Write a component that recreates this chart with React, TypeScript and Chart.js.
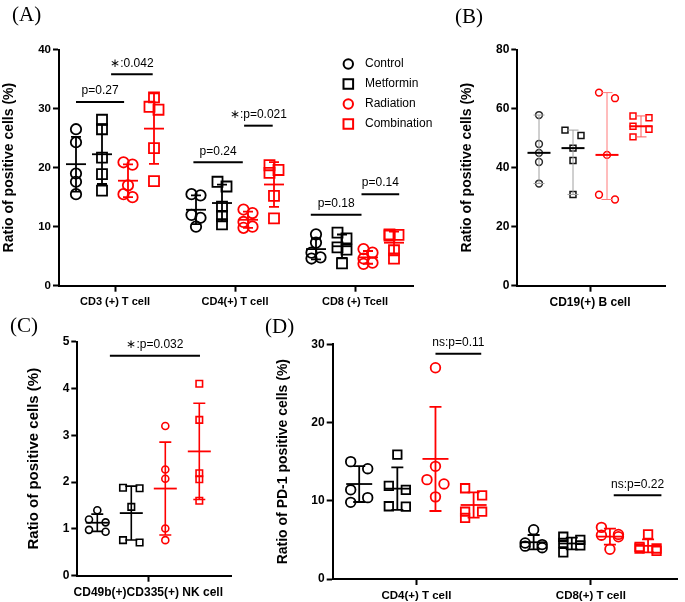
import { useEffect, useRef } from 'react';
import { Chart, registerables } from 'chart.js';

Chart.register(...registerables);

const SANS = "'Liberation Sans', Arial, Helvetica, sans-serif";
const SERIF = "'Liberation Serif', 'Times New Roman', serif";
const RED = '#ff0000';
const BLACK = '#000000';

const GROUP_NAMES = ['Control', 'Metformin', 'Radiation', 'Combination'];

// ---------- Panel A ----------
const A_CATEGORIES = ['CD3 (+) T cell', 'CD4(+) T cell', 'CD8 (+) Tcell'];
const A_CONTROL = [[26.5, 24.3, 19.0, 17.6, 15.5], [15.5, 15.3, 12.0, 11.5, 10.0], [8.7, 7.3, 5.6, 4.8, 4.6]];
const A_METFORMIN = [[28.1, 26.5, 21.7, 18.9, 16.1], [17.6, 16.8, 13.4, 11.8, 10.4], [9.0, 8.0, 6.5, 6.1, 3.8]];
const A_RADIATION = [[20.9, 20.5, 17.0, 15.5, 15.0], [12.9, 12.3, 10.8, 10.0, 9.8], [6.2, 5.6, 4.6, 3.9, 3.7]];
const A_COMBINATION = [[31.9, 30.3, 29.8, 23.3, 17.7], [20.4, 19.6, 19.1, 15.2, 11.4], [8.7, 8.6, 8.5, 6.0, 4.6]];
const A_Y_TICKS = [0, 10, 20, 30, 40];
const A_BRACKET_LABELS = ['p=0.27', '∗:0.042', 'p=0.24', '∗:p=0.021', 'p=0.18', 'p=0.14'];
const A_BRACKET_VALUES = [31.1, 35.8, 20.9, 27.1, 12.0, 15.5];
const A_BRACKET_CATS = [0, 0, 1, 1, 2, 2];
const A_BRACKET_FROM = [0, 1.35, -0.1, 1.85, -0.2, 1.75];
const A_BRACKET_TO = [1.85, 2.95, 1.8, 2.95, 1.75, 3.2];

// ---------- Panel B ----------
const B_CATEGORIES = ['CD19(+) B cell'];
const B_CONTROL = [[57.8, 48.0, 45.0, 41.9, 34.6]];
const B_METFORMIN = [[52.7, 50.9, 46.6, 42.4, 30.9]];
const B_RADIATION = [[65.4, 63.5, 44.3, 30.8, 29.2]];
const B_COMBINATION = [[57.5, 56.9, 54.0, 53.0, 50.4]];
const B_Y_TICKS = [0, 20, 40, 60, 80];

// ---------- Panel C ----------
const C_CATEGORIES = ['CD49b(+)CD335(+) NK cell'];
const C_CONTROL = [[1.40, 1.20, 1.14, 0.98, 0.94]];
const C_METFORMIN = [[1.88, 1.87, 1.47, 0.76, 0.71]];
const C_RADIATION = [[3.20, 2.27, 2.07, 1.01, 0.76]];
const C_COMBINATION = [[4.10, 3.33, 2.19, 2.06, 1.60]];
const C_Y_TICKS = [0, 1, 2, 3, 4, 5];
const C_BRACKET_LABELS = ['∗:p=0.032'];
const C_BRACKET_VALUES = [4.70];
const C_BRACKET_CATS = [0];
const C_BRACKET_FROM = [0.37];
const C_BRACKET_TO = [3.02];

// ---------- Panel D ----------
const D_CATEGORIES = ['CD4(+) T cell', 'CD8(+) T cell'];
const D_CONTROL = [[15.0, 14.1, 11.4, 10.4, 9.8], [6.3, 4.6, 4.4, 4.2, 4.0]];
const D_METFORMIN = [[15.9, 11.9, 11.4, 9.3, 9.25], [5.4, 5.0, 4.6, 4.3, 3.4]];
const D_RADIATION = [[27.0, 14.4, 12.7, 12.15, 10.5], [6.6, 5.7, 5.6, 5.4, 3.8]];
const D_COMBINATION = [[11.6, 10.7, 8.6, 8.6, 7.8], [5.7, 4.1, 3.9, 3.9, 3.6]];
const D_Y_TICKS = [0, 10, 20, 30];
const D_BRACKET_LABELS = ['ns:p=0.11', 'ns:p=0.22'];
const D_BRACKET_VALUES = [28.8, 10.7];
const D_BRACKET_CATS = [0, 1];
const D_BRACKET_FROM = [2.0, 2.1];
const D_BRACKET_TO = [3.2, 3.35];

type Bracket = { cat: number; from: number; to: number; y: number; label: string };

function makeBrackets(labels: string[], values: number[], cats: number[], from: number[], to: number[]): Bracket[] {
  return labels.map((label, i) => ({ label, y: values[i], cat: cats[i], from: from[i], to: to[i] }));
}

interface PanelSpec {
  id: string;
  label: string;
  labelPos: [number, number];
  canvas: { left: number; top: number; w: number; h: number };
  plot: { left: number; right: number; top: number; bottom: number };
  titleX: number;
  yTitle: string;
  yMax: number;
  yTicks: number[];
  categories: string[];
  series: number[][][];
  firstCatX: number;
  catPx: number;
  subPx: number;
  stat: 'sd' | 'range';
  tickFont: number;
  xFont: number;
  titleFont: number;
  circleR: number;
  squareR: number;
  borderWidth: number;
  halfSep: number;
  thr: number;
  meanHalf: number;
  capHalf: number;
  barWidth: number;
  meanWidth: number;
  pointColors: string[];
  barColors: string[];
  meanColors: string[];
  brackets: Bracket[];
  legend?: boolean;
}

const PANELS: PanelSpec[] = [
  {
    id: 'A', label: '(A)', labelPos: [12, 15],
    canvas: { left: 0, top: 0, w: 470, h: 310 },
    plot: { left: 59, right: 413, top: 49.5, bottom: 285.7 },
    titleX: 9, yTitle: 'Ratio of positive cells (%)', yMax: 40, yTicks: A_Y_TICKS,
    categories: A_CATEGORIES, series: [A_CONTROL, A_METFORMIN, A_RADIATION, A_COMBINATION],
    firstCatX: 115, catPx: 120, subPx: 26, stat: 'sd',
    tickFont: 11.5, xFont: 11, titleFont: 14,
    circleR: 5.2, squareR: 7.1, borderWidth: 1.8, halfSep: 4.5, thr: 8,
    meanHalf: 10, capHalf: 5, barWidth: 1.8, meanWidth: 1.8,
    pointColors: [BLACK, BLACK, RED, RED], barColors: [BLACK, BLACK, RED, RED], meanColors: [BLACK, BLACK, RED, RED],
    brackets: makeBrackets(A_BRACKET_LABELS, A_BRACKET_VALUES, A_BRACKET_CATS, A_BRACKET_FROM, A_BRACKET_TO),
    legend: true,
  },
  {
    id: 'B', label: '(B)', labelPos: [5, 17],
    canvas: { left: 450, top: 0, w: 235, h: 310 },
    plot: { left: 517.3, right: 665, top: 49.5, bottom: 285.7 },
    titleX: 467, yTitle: 'Ratio of positive cells (%)', yMax: 80, yTicks: B_Y_TICKS,
    categories: B_CATEGORIES, series: [B_CONTROL, B_METFORMIN, B_RADIATION, B_COMBINATION],
    firstCatX: 590, catPx: 120, subPx: 34, stat: 'range',
    tickFont: 12, xFont: 12, titleFont: 14,
    circleR: 3.4, squareR: 4.2, borderWidth: 1.5, halfSep: 8, thr: 8,
    meanHalf: 11.5, capHalf: 5.5, barWidth: 1, meanWidth: 2,
    pointColors: ['#2a2a2a', '#111111', RED, RED], barColors: ['#a0a0a0', '#a0a0a0', '#ff7a7a', '#ff5a5a'], meanColors: [BLACK, BLACK, RED, RED],
    brackets: [],
  },
  {
    id: 'C', label: '(C)', labelPos: [10, 16],
    canvas: { left: 0, top: 310, w: 250, h: 292 },
    plot: { left: 77.3, right: 231.7, top: 341.7, bottom: 575.7 },
    titleX: 34, yTitle: 'Ratio of positive cells (%)', yMax: 5, yTicks: C_Y_TICKS,
    categories: C_CATEGORIES, series: [C_CONTROL, C_METFORMIN, C_RADIATION, C_COMBINATION],
    firstCatX: 148.3, catPx: 120, subPx: 34, stat: 'sd',
    tickFont: 12, xFont: 12, titleFont: 15,
    circleR: 3.5, squareR: 4.6, borderWidth: 1.6, halfSep: 8.3, thr: 6,
    meanHalf: 11.5, capHalf: 6, barWidth: 1.6, meanWidth: 1.8,
    pointColors: [BLACK, BLACK, RED, RED], barColors: [BLACK, BLACK, RED, RED], meanColors: [BLACK, BLACK, RED, RED],
    brackets: makeBrackets(C_BRACKET_LABELS, C_BRACKET_VALUES, C_BRACKET_CATS, C_BRACKET_FROM, C_BRACKET_TO),
  },
  {
    id: 'D', label: '(D)', labelPos: [15, 17],
    canvas: { left: 250, top: 310, w: 435, h: 292 },
    plot: { left: 332.7, right: 685, top: 344.3, bottom: 579 },
    titleX: 283, yTitle: 'Ratio of PD-1 positive cells (%)', yMax: 30, yTicks: D_Y_TICKS,
    categories: D_CATEGORIES, series: [D_CONTROL, D_METFORMIN, D_RADIATION, D_COMBINATION],
    firstCatX: 418.3, catPx: 178.4, subPx: 39, stat: 'sd',
    tickFont: 12, xFont: 11.5, titleFont: 14,
    circleR: 4.8, squareR: 6, borderWidth: 1.8, halfSep: 8.7, thr: 9,
    meanHalf: 13, capHalf: 6, barWidth: 1.8, meanWidth: 1.8,
    pointColors: [BLACK, BLACK, RED, RED], barColors: [BLACK, BLACK, RED, RED], meanColors: [BLACK, BLACK, RED, RED],
    brackets: makeBrackets(D_BRACKET_LABELS, D_BRACKET_VALUES, D_BRACKET_CATS, D_BRACKET_FROM, D_BRACKET_TO),
  },
];

// Spread points that would overlap vertically into a simple swarm (offsets of -1 / 0 / +1).
function swarmOffsets(values: number[], pxPerUnit: number, thrPx: number): number[] {
  const order = values.map((_, i) => i).sort((a, b) => values[b] - values[a]);
  const out = new Array(values.length).fill(0);
  let cluster: number[] = [];
  const flush = () => {
    if (cluster.length > 1) cluster.forEach((id, k) => { out[id] = k % 2 === 0 ? -1 : 1; });
    cluster = [];
  };
  order.forEach((id, j) => {
    if (j > 0 && (values[order[j - 1]] - values[id]) * pxPerUnit < thrPx) cluster.push(id);
    else { flush(); cluster.push(id); }
  });
  flush();
  return out;
}

function stats(vals: number[], mode: 'sd' | 'range') {
  if (mode === 'range') {
    const s = [...vals].sort((a, b) => a - b);
    const n = s.length;
    const mid = n % 2 ? s[(n - 1) / 2] : (s[n / 2 - 1] + s[n / 2]) / 2;
    return { mid, lo: s[0], hi: s[n - 1] };
  }
  const n = vals.length;
  const mean = vals.reduce((a, b) => a + b, 0) / n;
  const sd = Math.sqrt(vals.reduce((a, b) => a + (b - mean) * (b - mean), 0) / (n - 1));
  return { mid: mean, lo: mean - sd, hi: mean + sd };
}

function buildChart(canvas: HTMLCanvasElement, spec: PanelSpec) {
  const c = spec.canvas;
  const p = spec.plot;
  const localLeft = p.left - c.left;
  const localRight = p.right - c.left;
  const localTop = p.top - c.top;
  const localBottom = p.bottom - c.top;
  const titleHalf = (spec.titleFont * 1.2) / 2;
  const padLeft = spec.titleX - c.left - titleHalf;
  const yWidth = localLeft - padLeft;
  const xHeight = c.h - localBottom;
  const xMin = (p.left - spec.firstCatX) / spec.catPx;
  const xMax = (p.right - spec.firstCatX) / spec.catPx;
  const sub = spec.subPx / spec.catPx;
  const yPx = (p.bottom - p.top) / spec.yMax;

  const datasets: any[] = [];
  spec.series.forEach((groupData, g) => {
    groupData.forEach((vals, ci) => {
      const center = ci + (g - 1.5) * sub;
      const offs = swarmOffsets(vals, yPx, spec.thr);
      const circle = g % 2 === 0;
      datasets.push({
        label: `${GROUP_NAMES[g]} - ${spec.categories[ci]}`,
        data: vals.map((v, i) => ({ x: center + (offs[i] * spec.halfSep) / spec.catPx, y: v })),
        center,
        values: vals,
        group: g,
        pointStyle: circle ? 'circle' : 'rect',
        pointRadius: circle ? spec.circleR : spec.squareR,
        pointBorderColor: spec.pointColors[g],
        pointBackgroundColor: 'rgba(0,0,0,0)',
        pointBorderWidth: spec.borderWidth,
        borderColor: spec.pointColors[g],
        backgroundColor: 'rgba(0,0,0,0)',
        showLine: false,
        clip: false,
      });
    });
  });

  const statsPlugin = {
    id: 'groupStats',
    afterDatasetsDraw(chart: any) {
      const { ctx } = chart;
      const xs = chart.scales.x;
      const ys = chart.scales.y;
      ctx.save();
      chart.data.datasets.forEach((ds: any) => {
        const st = stats(ds.values, spec.stat);
        const cx = xs.getPixelForValue(ds.center);
        const yLo = ys.getPixelForValue(st.lo);
        const yHi = ys.getPixelForValue(st.hi);
        const yMid = ys.getPixelForValue(st.mid);
        ctx.strokeStyle = spec.barColors[ds.group];
        ctx.lineWidth = spec.barWidth;
        ctx.beginPath();
        ctx.moveTo(cx, yLo); ctx.lineTo(cx, yHi);
        ctx.moveTo(cx - spec.capHalf, yLo); ctx.lineTo(cx + spec.capHalf, yLo);
        ctx.moveTo(cx - spec.capHalf, yHi); ctx.lineTo(cx + spec.capHalf, yHi);
        ctx.stroke();
        ctx.strokeStyle = spec.meanColors[ds.group];
        ctx.lineWidth = spec.meanWidth;
        ctx.beginPath();
        ctx.moveTo(cx - spec.meanHalf, yMid); ctx.lineTo(cx + spec.meanHalf, yMid);
        ctx.stroke();
      });
      ctx.restore();
    },
  };

  const bracketPlugin = {
    id: 'brackets',
    afterDatasetsDraw(chart: any) {
      const { ctx } = chart;
      const xs = chart.scales.x;
      const ys = chart.scales.y;
      ctx.save();
      spec.brackets.forEach((b) => {
        const x1 = xs.getPixelForValue(b.cat + (b.from - 1.5) * sub);
        const x2 = xs.getPixelForValue(b.cat + (b.to - 1.5) * sub);
        const py = ys.getPixelForValue(b.y);
        ctx.strokeStyle = BLACK;
        ctx.lineWidth = 2;
        ctx.beginPath();
        ctx.moveTo(x1, py); ctx.lineTo(x2, py);
        ctx.stroke();
        ctx.fillStyle = BLACK;
        ctx.font = `12px ${SANS}`;
        ctx.textAlign = 'center';
        ctx.textBaseline = 'middle';
        ctx.fillText(b.label, (x1 + x2) / 2, py - 11);
      });
      ctx.restore();
    },
  };

  const labelPlugin = {
    id: 'panelLabel',
    afterDraw(chart: any) {
      const { ctx } = chart;
      ctx.save();
      ctx.fillStyle = BLACK;
      ctx.font = `21px ${SERIF}`;
      ctx.textAlign = 'left';
      ctx.textBaseline = 'middle';
      ctx.fillText(spec.label, spec.labelPos[0], spec.labelPos[1]);
      ctx.restore();
    },
  };

  const legendPlugin = {
    id: 'groupLegend',
    afterDraw(chart: any) {
      if (!spec.legend) return;
      const { ctx } = chart;
      ctx.save();
      const mx = 348.3 - c.left;
      GROUP_NAMES.forEach((name, g) => {
        const yy = 64 + g * 20 - c.top;
        ctx.strokeStyle = spec.pointColors[g];
        ctx.lineWidth = 2;
        ctx.beginPath();
        if (g % 2 === 0) ctx.arc(mx, yy, 4.7, 0, Math.PI * 2);
        else ctx.rect(mx - 4.8, yy - 4.8, 9.6, 9.6);
        ctx.stroke();
        ctx.fillStyle = BLACK;
        ctx.font = `12px ${SANS}`;
        ctx.textAlign = 'left';
        ctx.textBaseline = 'middle';
        ctx.fillText(name, 365 - c.left, yy);
      });
      ctx.restore();
    },
  };

  const axisCommon = {
    grid: { display: true, drawOnChartArea: false, drawTicks: true, tickLength: 6, tickWidth: 2, tickColor: BLACK },
    border: { display: true, color: BLACK, width: 2 },
  };

  return new Chart(canvas, {
    type: 'scatter',
    data: { datasets },
    plugins: [statsPlugin, bracketPlugin, labelPlugin, legendPlugin],
    options: {
      responsive: false,
      maintainAspectRatio: false,
      animation: false,
      events: [],
      layout: { padding: { left: padLeft, right: c.w - localRight, top: localTop, bottom: 0 } },
      plugins: { legend: { display: false }, tooltip: { enabled: false } },
      scales: {
        x: {
          type: 'linear',
          min: xMin,
          max: xMax,
          afterBuildTicks: (s: any) => { s.ticks = spec.categories.map((_, i) => ({ value: i })); },
          afterFit: (s: any) => { s.height = xHeight; },
          ticks: {
            callback: (_v: any, i: number) => spec.categories[i],
            font: { family: SANS, size: spec.xFont, weight: 'bold' },
            color: BLACK, padding: 4, maxRotation: 0, autoSkip: false,
          },
          ...axisCommon,
        },
        y: {
          type: 'linear',
          min: 0,
          max: spec.yMax,
          afterBuildTicks: (s: any) => { s.ticks = spec.yTicks.map((v) => ({ value: v })); },
          afterFit: (s: any) => { s.width = yWidth; },
          ticks: {
            font: { family: SANS, size: spec.tickFont, weight: 'bold' },
            color: BLACK, padding: 2,
          },
          title: {
            display: true, text: spec.yTitle, color: BLACK, padding: 0,
            font: { family: SANS, size: spec.titleFont, weight: 'bold' },
          },
          ...axisCommon,
        },
      },
    } as any,
  });
}

function PanelChart({ spec }: { spec: PanelSpec }) {
  const ref = useRef<HTMLCanvasElement>(null);
  useEffect(() => {
    if (!ref.current) return;
    const chart = buildChart(ref.current, spec);
    return () => chart.destroy();
  }, [spec]);
  const c = spec.canvas;
  return (
    <canvas
      ref={ref}
      width={c.w}
      height={c.h}
      style={{ position: 'absolute', left: c.left, top: c.top, width: c.w, height: c.h }}
    />
  );
}

export default function App() {
  return (
    <div style={{ position: 'fixed', left: 0, top: 0, width: 685, height: 602, background: '#ffffff', overflow: 'hidden' }}>
      {PANELS.map((spec) => (
        <PanelChart key={spec.id} spec={spec} />
      ))}
    </div>
  );
}
